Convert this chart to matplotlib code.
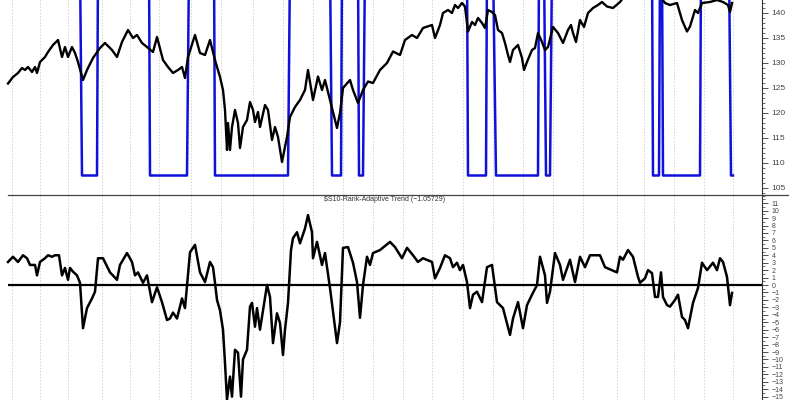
import matplotlib
matplotlib.use("Agg")
import matplotlib.pyplot as plt
from matplotlib.ticker import MultipleLocator, FixedLocator
from matplotlib.lines import Line2D

plt.rcParams['font.family'] = ['Liberation Sans', 'DejaVu Sans']

# price (top panel), x = bar position
price_x = [8, 13, 18, 22, 25, 28, 32, 35, 37, 40, 45, 48, 53, 58, 62, 65, 68, 72, 75, 78,
           83, 87, 93, 100, 105, 112, 117, 122, 128, 133, 137, 142, 147, 153, 157, 163, 168,
           173, 178, 182, 185, 188, 195, 200, 205, 210, 215, 220, 223, 225, 227, 228, 230,
           232, 235, 238, 240, 243, 247, 250, 253, 255, 258, 260, 265, 268, 272, 275, 278,
           282, 287, 290, 295, 300, 305, 308, 313, 318, 322, 325, 330, 337, 340, 343, 350,
           353, 358, 363, 368, 373, 380, 387, 393, 400, 405, 412, 417, 423, 432, 435, 440,
           443, 448, 452, 455, 458, 462, 465, 468, 472, 475, 478, 482, 485, 488, 492, 495,
           498, 502, 505, 508, 510, 513, 518, 522, 524, 527, 532, 535, 538, 542, 545, 548,
           553, 558, 563, 568, 571, 573, 576, 580, 584, 588, 593, 598, 602, 607, 613, 620,
           625, 635, 645, 655, 662, 665, 670, 677, 682, 687, 690, 695, 698, 702, 710, 717,
           723, 728, 730, 732]
price_y = [125.9, 127.2, 128.0, 129.0, 128.6, 129.2, 128.2, 129.2, 128.0, 130.2, 131.2, 132.2,
           133.6, 134.6, 131.2, 133.2, 131.2, 133.2, 132.0, 130.2,
           126.6, 128.6, 131.0, 133.0, 134.0, 132.6, 131.2, 134.2, 136.6, 135.0, 135.6, 134.0,
           133.2, 132.2, 135.2, 130.6, 129.2,
           128.0, 128.6, 129.2, 127.0, 131.2, 135.6, 132.0, 131.6, 134.6, 130.6, 127.2, 124.6,
           120.6, 112.6, 118.0, 112.6,
           117.2, 120.6, 118.0, 113.0, 117.2, 118.6, 122.2, 120.6, 118.2, 120.2, 117.2, 121.6,
           120.6, 114.6, 117.2, 115.2,
           110.2, 115.2, 119.2, 121.2, 122.6, 124.6, 128.6, 122.6, 127.3, 124.6, 126.6, 122.6,
           117.0, 120.0, 125.0, 126.6,
           124.6, 122.0, 124.6, 126.3, 126.0, 128.6, 130.0, 132.3, 131.6, 134.6, 135.6, 135.0,
           137.0, 137.6, 135.0, 137.6,
           140.0, 140.6, 140.0, 141.6, 141.0, 142.0, 141.3, 136.3, 138.2, 137.6, 139.0, 138.0,
           137.0, 140.6, 140.2, 139.6,
           136.6, 136.0, 134.0, 131.6, 130.2, 132.6, 133.6, 131.0, 128.6, 130.2, 132.6, 133.0,
           136.0, 134.2, 132.6, 133.2,
           137.2, 136.0, 134.0, 136.6, 137.6, 136.0, 134.2, 138.6, 137.2, 140.0, 141.0, 141.6,
           142.2, 141.3, 141.0, 142.2,
           143.5, 144.0, 143.8, 143.2, 142.8, 142.0, 141.6, 142.0, 138.6, 136.3, 137.3, 140.6,
           140.0, 142.0, 142.2, 142.6,
           142.2, 141.6, 140.2, 142.0]

# trend signal (blue): high = off the top of the panel, low = 107.5
HI, LO = 150.0, 107.5
signal_x = [8, 80, 82, 97, 98, 149, 150, 187, 189, 214, 215, 288, 290, 330, 332, 341, 342,
            358, 359, 363, 365, 467, 468, 486, 487, 493, 496, 538, 539, 544, 546, 550, 552,
            652, 653, 659, 660, 662, 663, 700, 701, 729, 731, 733]
signal_y = [HI, HI, LO, LO, HI, HI, LO, LO, HI, HI, LO, LO, HI, HI, LO, LO, HI,
            HI, LO, LO, HI, HI, LO, LO, HI, HI, LO, LO, HI, HI, LO, LO, HI,
            HI, LO, LO, HI, HI, LO, LO, HI, HI, LO, LO]

# $S10 rank adaptive trend oscillator (lower panel)
osc_x = [8, 13, 18, 23, 27, 30, 35, 37, 40, 45, 48, 52, 55, 59, 62, 65, 68, 70, 73, 77, 80,
         83, 87, 92, 95, 98, 103, 110, 117, 120, 127, 132, 135, 138, 143, 147, 152, 157, 162,
         167, 170, 173, 177, 182, 185, 190, 195, 200, 205, 210, 213, 215, 217, 220, 223, 225,
         227, 230, 232, 235, 238, 241, 243, 247, 250, 252, 255, 257, 260, 263, 267, 270, 273,
         277, 280, 283, 285, 288, 291,
         293, 297, 300, 305, 308, 312, 313, 317, 322, 325, 330, 337, 340, 343, 348, 353, 357,
         360, 363, 367, 370, 373, 380, 390, 395, 402, 407, 413, 418, 423, 432, 435, 440, 445,
         450, 453, 457, 460, 463, 467, 470, 473, 477, 482, 487, 492, 497, 503, 510, 513, 518,
         523, 527, 532, 537, 540, 545, 547, 550, 555, 560, 563, 570, 575, 580, 585, 590, 600,
         605, 612, 617, 620, 623, 628, 633, 638, 640, 645, 648, 652, 655, 658, 661, 663, 667,
         670, 675, 678, 682, 685, 688, 693, 698, 702, 707, 713, 717, 720, 723, 727, 730, 732]
osc_y = [3.1, 3.8, 3.1, 4.0, 3.6, 2.7, 2.7, 1.3, 3.1, 3.6, 4.0, 3.8, 4.0, 4.0, 1.3, 2.3, 0.7,
         2.3, 1.8, 1.3, 0.3, -5.8, -3.1, -1.8, -0.9, 3.6, 3.6, 1.7, 0.7, 2.7, 4.3, 3.1, 1.3,
         1.7, 0.3, 1.3, -2.3, -0.3, -2.3, -4.7, -4.5, -3.7, -4.5, -1.8, -3.1, 4.4, 5.4, 1.7,
         0.4, 3.1, 2.4, 0.3, -2.0, -3.4, -6.0, -10.5, -15.4, -12.3, -15.0, -8.7, -9.1, -15.0,
         -10.0, -8.7, -2.9, -2.4, -5.6, -3.1, -6.0, -3.4, 0.0, -1.6, -7.8, -3.8, -5.1, -9.4,
         -6.0, -2.4, 4.7,
         6.3, 7.1, 5.6, 7.6,
         9.4, 7.1, 3.6, 5.8, 2.7, 4.3, -0.4, -7.8, -5.0, 5.0, 5.1, 3.0, 0.4, -4.4, 0.0, 3.8,
         2.7, 4.3, 4.7, 5.8, 5.1, 3.6, 5.0, 4.0, 3.1, 3.6, 3.1, 0.9, 2.3, 4.0, 3.6, 2.4, 3.0,
         2.0, 2.7, 0.4, -3.1, -1.3, -0.9, -2.3, 2.4, 2.7, -2.3, -3.1, -6.7, -4.5, -2.3, -5.8,
         -2.7, -1.3, 0.0, 3.8, 1.3, -2.4, -0.9, 4.3, 2.7, 0.7, 3.4, 0.4, 3.8, 2.4, 4.0, 4.0,
         2.4, 2.0, 1.7, 3.8, 3.4, 4.7, 3.8, 1.1, 0.3, 0.9, 2.0, 1.6, -1.6, -1.6, 1.7, -1.6,
         -2.7, -2.9, -2.0, -1.3, -4.3, -4.7, -5.8, -2.4, -0.4, 3.0, 2.0, 3.0, 2.0, 3.6, 3.1,
         1.1, -2.7, -1.06]
osc_last = -1.05729

# month separators
month_x = [12, 40, 68, 102, 130, 159, 191, 221, 253, 283, 313, 343, 373, 403, 432, 463, 493,
           523, 553, 583, 617, 644, 674, 704, 733]


def style_axis(ax):
    for side in ('top', 'left', 'bottom'):
        ax.spines[side].set_visible(False)
    ax.spines['right'].set_color('#333333')
    ax.spines['right'].set_linewidth(0.8)
    ax.yaxis.tick_right()
    ax.set_xticks([])
    ax.tick_params(axis='y', which='major', direction='out', length=4, width=0.6,
                   colors='#333333', labelcolor='#444444', pad=3)
    ax.tick_params(axis='y', which='minor', direction='out', length=2, width=0.5,
                   colors='#333333')
    for gx in month_x:
        ax.axvline(gx, color='#c0c0c0', lw=0.5, ls=(0, (2, 2.5)), zorder=0)
    ax.set_xlim(0, 762)


fig = plt.figure(figsize=(8, 4), dpi=100)
ax1 = fig.add_axes([0, 1 - 195 / 400, 762 / 800, 195 / 400])
ax2 = fig.add_axes([0, 0, 762 / 800, 205 / 400])

# top panel: price and trend signal
style_axis(ax1)
ax1.plot(signal_x, signal_y, color='#1010dc', lw=1.8, zorder=2)
ax1.plot(price_x, price_y, color='black', lw=1.7, zorder=3)
ax1.set_ylim(103.6, 142.6)
ax1.yaxis.set_major_locator(FixedLocator([105, 110, 115, 120, 125, 130, 135, 140]))
ax1.yaxis.set_minor_locator(MultipleLocator(1))
ax1.tick_params(axis='y', labelsize=6)

# lower panel: oscillator
style_axis(ax2)
ax2.hlines(0, 8, 762, color='black', lw=1.6, zorder=2)
ax2.plot(osc_x, osc_y, color='black', lw=1.8, zorder=3)
ax2.set_ylim(-15.45, 12.1)
ax2.yaxis.set_major_locator(FixedLocator(list(range(-15, 12))))
ax2.yaxis.set_minor_locator(MultipleLocator(0.5))
ax2.tick_params(axis='y', labelsize=5)
label = r"\$S10-Rank-Adaptive Trend (" + f"{osc_last:.5f}".replace('-', '\u2212') + ")"
ax2.text(385, 11.55, label, ha='center', va='center', fontsize=5, color='#333333')

# separator between panels
fig.add_artist(Line2D([8 / 800, 788 / 800], [1 - 195 / 400, 1 - 195 / 400],
                      color='#444444', lw=0.9))

fig.savefig("out.png", dpi=100)
